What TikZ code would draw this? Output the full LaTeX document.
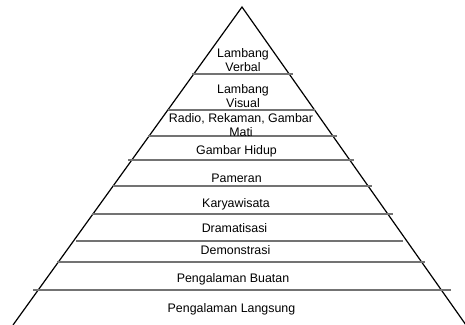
\documentclass[tikz,border=0pt]{standalone}
\usepackage{fontspec}
\setmainfont{Liberation Sans}

\begin{document}
\begin{tikzpicture}[
  x=0.75pt,
  y=-0.75pt,
  every node/.style={font=\fontsize{9.3}{10.5}\selectfont},
  tiertext/.style={anchor=base,inner sep=0pt,align=center},
  pyrside/.style={line width=0.9pt,black},
  divider/.style={line width=1.1pt,draw=black!55}
]

\useasboundingbox (0,0) rectangle (465,325);

% ------------------------------------------------------------------
% Outline of the cone
% ------------------------------------------------------------------
\coordinate (apex) at (242,7);
\coordinate (baseL) at (13,325);
\coordinate (baseR) at (466,325);

\draw[pyrside] (baseL) -- (apex) -- (baseR);

% ------------------------------------------------------------------
% Level dividers: y / left x / right x
% ------------------------------------------------------------------
\foreach \y/\xa/\xb in {74/192/293, 110/168/315, 136/148/337, 160/128/354,
                       186/113/372, 214/92/393, 241/76/403, 262/57/425,
                       290/33/451}
  \draw[divider] (\xa,\y) -- (\xb,\y);

% ------------------------------------------------------------------
% Level names, top to bottom (base = last line)
% ------------------------------------------------------------------
\node[tiertext] (verbal)   at (243,71)  {Lambang\\Verbal};
\node[tiertext] (visual)   at (243,107) {Lambang\\Visual};
\node[tiertext] (radio)    at (241,136) {Radio, Rekaman, Gambar\\Mati};
\node[tiertext] (hidup)    at (236.5,154) {Gambar Hidup};
\node[tiertext] (pameran)  at (236.5,182) {Pameran};
\node[tiertext] (wisata)   at (236,207) {Karyawisata};
\node[tiertext] (drama)    at (234.5,232) {Dramatisasi};
\node[tiertext] (demo)     at (235.5,254) {Demonstrasi};
\node[tiertext] (buatan)   at (233,282) {Pengalaman Buatan};
\node[tiertext] (langsung) at (231.5,312) {Pengalaman Langsung};

\end{tikzpicture}
\end{document}
